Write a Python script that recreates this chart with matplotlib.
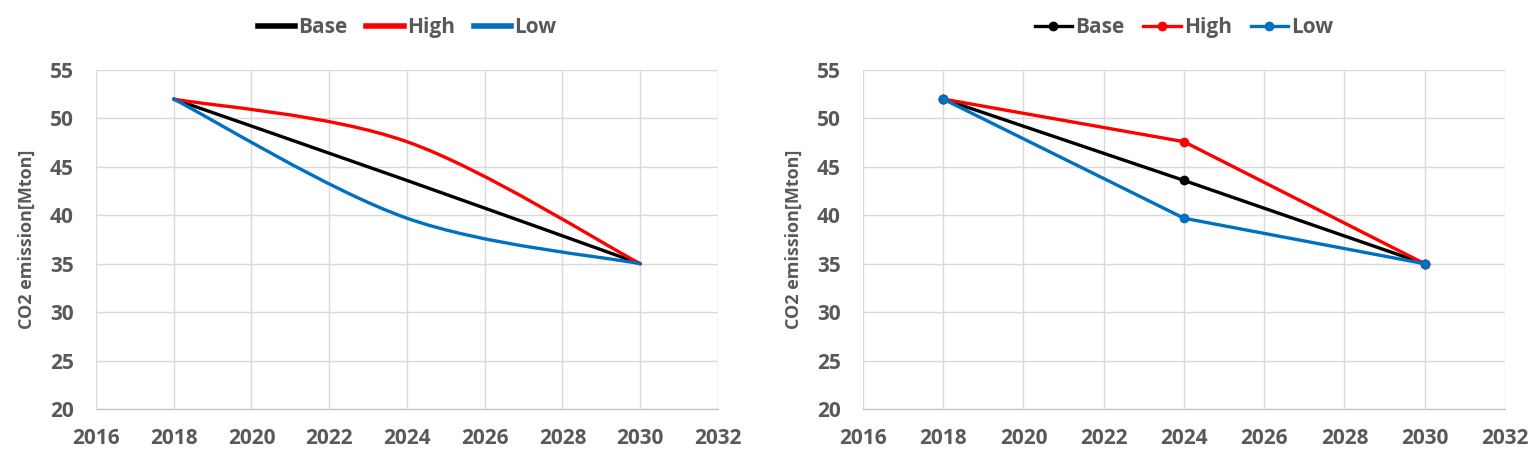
import matplotlib.pyplot as plt
from matplotlib.path import Path
from matplotlib.patches import PathPatch
from matplotlib.lines import Line2D

plt.rcParams['font.family'] = ['Open Sans', 'DejaVu Sans']

years = [2018, 2024, 2030]
base = [52.0, 43.6, 35.0]
high = [52.0, 47.6, 35.0]
low = [52.0, 39.7, 35.0]

series = [('Base', base, '#000000'), ('High', high, '#ff0000'), ('Low', low, '#0070c0')]
xticks = list(range(2016, 2033, 2))
yticks = list(range(20, 56, 5))
grey = '#595959'


def smooth_path(xs, ys):
    # Excel style smoothed line: Catmull-Rom segments as cubic Bezier
    pts = list(zip(xs, ys))
    verts = [pts[0]]
    codes = [Path.MOVETO]
    n = len(pts)
    for i in range(n - 1):
        p0 = pts[max(i - 1, 0)]
        p1 = pts[i]
        p2 = pts[i + 1]
        p3 = pts[min(i + 2, n - 1)]
        c1 = (p1[0] + (p2[0] - p0[0]) / 6, p1[1] + (p2[1] - p0[1]) / 6)
        c2 = (p2[0] - (p3[0] - p1[0]) / 6, p2[1] - (p3[1] - p1[1]) / 6)
        verts += [c1, c2, p2]
        codes += [Path.CURVE4] * 3
    return Path(verts, codes)


def style_axes(ax):
    ax.set_xlim(2016, 2032)
    ax.set_ylim(20, 55)
    ax.set_xticks(xticks)
    ax.set_yticks(yticks)
    ax.grid(True, color='#d9d9d9', linewidth=1)
    ax.set_axisbelow(True)
    for s in ['top', 'right', 'left']:
        ax.spines[s].set_visible(False)
    ax.spines['bottom'].set_color('#bfbfbf')
    ax.tick_params(length=0, labelsize=15, labelcolor=grey)
    ax.tick_params(axis='x', pad=14)
    ax.tick_params(axis='y', pad=16)
    for lab in ax.get_xticklabels() + ax.get_yticklabels():
        lab.set_fontweight('bold')
    ax.set_ylabel('CO2 emission[Mton]', fontsize=13, fontweight='bold', color=grey, labelpad=10)


def add_legend(ax, handles=None):
    ax.legend(handles=handles, loc='center', bbox_to_anchor=(0.5, 1.124), ncol=3,
              frameon=False, prop={'size': 15, 'weight': 'bold'}, labelcolor=grey,
              handlelength=1.8, handletextpad=0.15, columnspacing=0.9)


fig = plt.figure(figsize=(15.38, 4.65), dpi=100)
ax1 = fig.add_axes([0.0624, 0.1204, 0.4044, 0.729])
ax2 = fig.add_axes([0.5611, 0.1204, 0.4174, 0.729])

# left: smoothed lines
handles = []
for name, vals, col in series:
    ax1.add_patch(PathPatch(smooth_path(years, vals), facecolor='none', edgecolor=col,
                            linewidth=2.4, capstyle='round', joinstyle='round'))
    handles.append(Line2D([], [], color=col, linewidth=4, label=name))
style_axes(ax1)
add_legend(ax1, handles)

# right: straight lines with markers
for name, vals, col in series:
    ax2.plot(years, vals, color=col, linewidth=2.4, marker='o', markersize=6, label=name)
style_axes(ax2)
add_legend(ax2)

fig.savefig('out.png', dpi=100)
